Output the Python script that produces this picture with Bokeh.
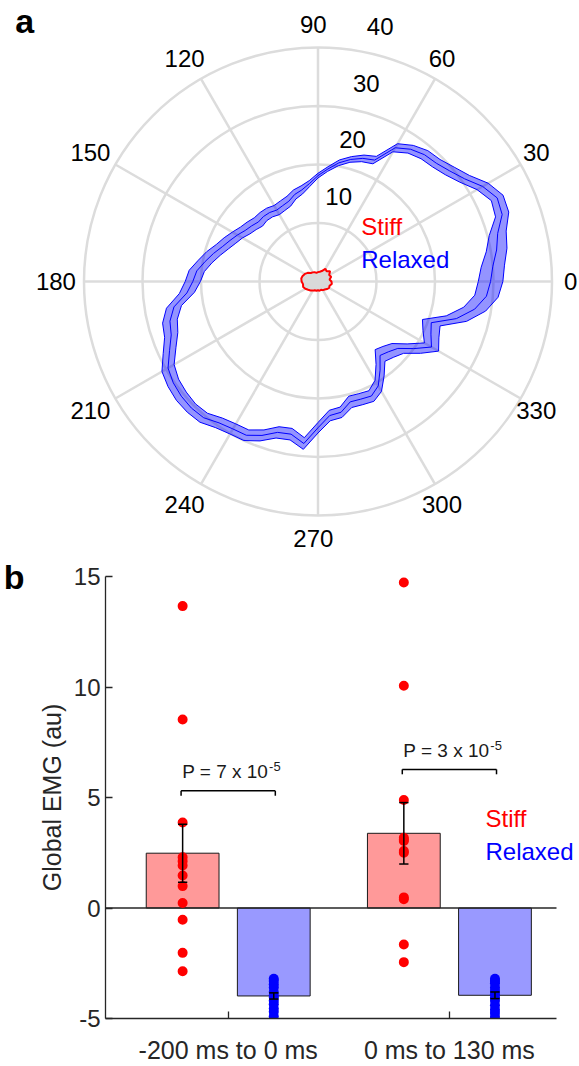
import numpy as np
from bokeh.plotting import figure
from bokeh.models import Label, FixedTicker, Range1d, LinearAxis
from bokeh.core.properties import value
from bokeh.embed import file_html
from bokeh.resources import INLINE

FONT = "Liberation Sans"

# ---------------- Panel a data (polar) ----------------
relaxed_angles_deg = list(range(0, 360, 5))
relaxed_mean = [29.5, 30.0, 31.0, 31.8, 33.5, 33.8, 32.5, 30.6, 29.4, 28.6, 28.3, 27.6,
                26.4, 22.9, 22.4, 21.6, 20.6, 19.3, 18.1, 16.8, 15.9, 15.4, 14.6, 14.3,
                14.1, 14.4, 14.5, 14.4, 14.8, 15.2, 15.9, 16.6, 17.4, 18.5, 19.6, 20.8,
                21.4, 22.5, 25.0, 26.2, 26.7, 28.0, 29.6, 30.2, 30.5, 30.6, 30.4, 29.5,
                29.1, 29.0, 28.0, 26.7, 26.5, 27.8, 25.0, 23.0, 22.7, 21.3, 21.4, 21.6,
                20.6, 18.5, 16.5, 17.0, 17.8, 20.0, 22.4, 21.3, 20.6, 24.5, 27.2, 28.9]
relaxed_halfwidth = [2.1, 2.0, 1.8, 1.5, 1.2, 1.1, 1.1, 1.0, 1.0, 0.9, 0.9, 0.8,
                     0.8, 0.7, 0.6, 0.5, 0.5, 0.4, 0.4, 0.5, 0.7, 0.8, 0.9, 0.9,
                     0.9, 0.9, 0.9, 1.0, 1.0, 1.0, 1.0, 1.1, 1.1, 1.2, 1.2, 1.3,
                     1.3, 1.3, 1.3, 1.3, 1.2, 1.2, 1.2, 1.1, 1.1, 1.0, 1.0, 1.0,
                     1.0, 1.0, 1.0, 1.0, 1.0, 1.0, 0.9, 0.9, 0.9, 1.0, 1.0, 1.0,
                     1.1, 1.2, 1.3, 1.3, 1.3, 1.4, 1.4, 1.5, 1.6, 1.8, 1.9, 2.0]
stiff_angles_deg = list(range(0, 360, 10))
stiff_r = [2.3, 2.0, 2.4, 2.2, 2.7, 2.3, 2.5, 1.9, 1.7, 1.6, 1.5, 1.7,
           1.8, 1.9, 2.3, 2.6, 2.8, 2.9, 2.8, 2.6, 2.7, 2.5, 2.2, 2.0,
           1.8, 1.6, 1.6, 1.5, 1.6, 1.5, 1.7, 1.8, 2.0, 2.2, 2.1, 2.4]
ring_values = [10, 20, 30, 40]
ring_labels = ["10", "20", "30", "40"]
spoke_angles_deg = [0, 30, 60, 90, 120, 150, 180, 210, 240, 270, 300, 330]
spoke_labels = ["0", "30", "60", "90", "120", "150", "180", "210", "240", "270", "300", "330"]
legend_names = ["Stiff", "Relaxed"]
legend_colors = ["#ff0000", "#0000ff"]

# ---------------- Panel b data (bars) ----------------
categories = ["-200 ms to 0 ms", "0 ms to 130 ms"]
cat_x = [1, 2]
stiff_bar = [2.48, 3.38]
stiff_err = [1.31, 1.39]
relaxed_bar = [-3.98, -3.95]
relaxed_err = [0.14, 0.15]
stiff_pts = [
    [13.66, 8.53, 3.87, 2.30, 2.12, 1.92, 1.47, 0.99, 0.23, -0.53, -2.03, -2.86],
    [14.73, 10.06, 4.89, 3.18, 3.10, 3.03, 2.58, 2.50, 0.48, 0.40, -1.65, -2.45],
]
relaxed_pts = [
    [-3.20, -3.30, -3.45, -3.60, -3.80, -3.95, -4.05, -4.20, -4.35, -4.55, -4.70, -4.90],
    [-3.20, -3.30, -3.40, -3.60, -3.75, -3.90, -4.05, -4.20, -4.40, -4.60, -4.75, -4.92],
]
p_main = ["P = 7 x 10", "P = 3 x 10"]
p_exp = ["-5", "-5"]
bracket_level = [5.30, 6.27]
y_ticks = [-5, 0, 5, 10, 15]
y_lim = (-5, 15)

# ================= Panel a =================
SCALE = 5.85          # px per unit
WA, HA = 579, 553
CX, CY = 317.5, 281.0
xa0, xa1 = -CX / SCALE, (WA - CX) / SCALE
ya0, ya1 = -(HA - CY) / SCALE, CY / SCALE

pa = figure(width=WA, height=HA, x_range=Range1d(xa0, xa1), y_range=Range1d(ya0, ya1),
            output_backend="svg", toolbar_location=None,
            x_axis_location=None, y_axis_location=None, min_border=0)
pa.outline_line_color = None
pa.grid.visible = False

GRID = "#dcdcdc"
n_r = len(ring_values)
pa.circle(x=np.zeros(n_r), y=np.zeros(n_r), radius=ring_values,
          fill_color=None, line_color=GRID, line_width=2.5)
sa = np.deg2rad(spoke_angles_deg)
rmax = max(ring_values)
pa.segment(x0=np.zeros(len(sa)), y0=np.zeros(len(sa)),
           x1=rmax * np.cos(sa), y1=rmax * np.sin(sa),
           line_color=GRID, line_width=2.5)

# relaxed band
th = np.deg2rad(relaxed_angles_deg)
rm = np.array(relaxed_mean)
hw = np.array(relaxed_halfwidth)
ro, ri = rm + hw, rm - hw
pa.multi_polygons(xs=[[[list(ro * np.cos(th)), list(ri * np.cos(th))]]],
                  ys=[[[list(ro * np.sin(th)), list(ri * np.sin(th))]]],
                  fill_color="#0000ff", fill_alpha=0.42, line_color="#0000ff", line_width=1)
thc = np.append(th, th[0])
rmc = np.append(rm, rm[0])
pa.line(rmc * np.cos(thc), rmc * np.sin(thc), line_color="#0000ff", line_width=1)

# stiff
ts = np.deg2rad(stiff_angles_deg)
rs = np.array(stiff_r)
pa.patch(rs * np.cos(ts), rs * np.sin(ts), fill_color="#d9d9d9",
         line_color="#ff0000", line_width=2)

# angle labels
LR = 1.1 * rmax
lx = LR * np.cos(sa) - 0.8
ly = LR * np.sin(sa)
half_w = np.array([len(s) for s in spoke_labels]) * 6.7 / SCALE
lx = np.minimum(lx, xa1 - half_w - 0.2)
pa.text(x=lx, y=ly, text=spoke_labels, text_font=value(FONT), text_font_size="24px",
        text_align="center", text_baseline="middle", text_color="#000000")

# radial labels
ra = np.deg2rad(76.3)
rr = np.array(ring_values) + 4.9
pa.text(x=rr * np.cos(ra), y=rr * np.sin(ra), text=ring_labels, text_font=value(FONT),
        text_font_size="24px", text_align="center", text_baseline="middle",
        text_color="#000000")

# legend (a)
leg_x = (360.7 - CX) / SCALE
leg_y = [(CY - 225.7) / SCALE, (CY - 259.0) / SCALE]
pa.text(x=[leg_x, leg_x], y=leg_y, text=legend_names, text_color=legend_colors,
        text_font=value(FONT), text_font_size="24px", text_align="left",
        text_baseline="middle")

pa.text(x=[(14.8 - CX) / SCALE], y=[(CY - 20.0) / SCALE], text=["a"],
        text_font=value(FONT), text_font_size="34px", text_font_style="bold",
        text_align="left", text_baseline="middle", text_color="#000000")

# ================= Panel b =================
WB, HB = 579, 513
PXU = 221.2           # px per category unit
FRAME_L = 105
xb0 = 1 - (227.7 - FRAME_L) / PXU
x_axis_end = xb0 + 451.0 / PXU
xb1 = xb0 + (WB - FRAME_L) / PXU
pb = figure(width=WB, height=HB, x_range=Range1d(xb0, xb1), y_range=Range1d(*y_lim),
            output_backend="svg", toolbar_location=None,
            min_border_left=FRAME_L, min_border_right=0, min_border_top=23, min_border_bottom=46)
pb.outline_line_color = None
pb.grid.visible = False

AX = "#262626"
for ax in (pb.xaxis[0], pb.yaxis[0]):
    ax.axis_line_color = AX
    ax.axis_line_width = 1.3
    ax.major_tick_line_color = AX
    ax.major_tick_line_width = 1.3
    ax.major_tick_in = 7
    ax.major_tick_out = 0
    ax.minor_tick_line_color = None
    ax.major_label_text_font = FONT
    ax.major_label_text_color = AX

pb.yaxis.ticker = FixedTicker(ticks=y_ticks)
pb.yaxis.major_label_overrides = {t: str(t) for t in y_ticks}
pb.yaxis.major_label_text_font_size = "24px"
pb.yaxis.major_label_standoff = 5
pb.yaxis.axis_label = "Global EMG (au)"
pb.yaxis.axis_label_text_font = FONT
pb.yaxis.axis_label_text_font_size = "25px"
pb.yaxis.axis_label_text_font_style = "normal"
pb.yaxis.axis_label_text_color = AX
pb.yaxis.axis_label_standoff = 5

pb.xaxis.bounds = (xb0, x_axis_end)
pb.xaxis.ticker = FixedTicker(ticks=cat_x)
pb.xaxis.major_label_overrides = {c: n for c, n in zip(cat_x, categories)}
pb.xaxis.major_label_standoff = 17
pb.xaxis.major_label_text_font_size = "25px"

# panel letter as an outer left axis label
b_axis = LinearAxis(ticker=FixedTicker(ticks=[y_lim[1]]), major_label_overrides={y_lim[1]: "b"},
                    axis_line_color=None, major_tick_line_color=None, minor_tick_line_color=None,
                    major_label_text_font=FONT, major_label_text_font_size="34px",
                    major_label_text_font_style="bold", major_label_text_color="#000000",
                    major_label_standoff=4)
pb.add_layout(b_axis, "left")

OFF = 0.206
BW = 0.329
xs_stiff = [c - OFF for c in cat_x]
xs_rel = [c + OFF for c in cat_x]
pb.vbar(x=xs_stiff, top=stiff_bar, bottom=0, width=BW, fill_color="#ff9999",
        line_color="#1a1a1a", line_width=1)
pb.vbar(x=xs_rel, top=relaxed_bar, bottom=0, width=BW, fill_color="#9999ff",
        line_color="#1a1a1a", line_width=1)
# zero line across the axis extent
pb.segment(x0=[xb0], y0=[0], x1=[x_axis_end], y1=[0], line_color=AX, line_width=1.3)

for i in range(len(cat_x)):
    pb.scatter(x=[xs_stiff[i]] * len(stiff_pts[i]), y=stiff_pts[i], size=10,
               color="#ff0000", line_color=None)
    pb.scatter(x=[xs_rel[i]] * len(relaxed_pts[i]), y=relaxed_pts[i], size=10,
               color="#0000ff", line_color=None)

# error bars
CAP = 0.021
ex = xs_stiff + xs_rel
em = stiff_bar + relaxed_bar
ee = stiff_err + relaxed_err
lo = [m - e for m, e in zip(em, ee)]
hi = [m + e for m, e in zip(em, ee)]
pb.segment(x0=ex, y0=lo, x1=ex, y1=hi, line_color="#000000", line_width=1.5)
pb.segment(x0=[x - CAP for x in ex], y0=lo, x1=[x + CAP for x in ex], y1=lo,
           line_color="#000000", line_width=1.5)
pb.segment(x0=[x - CAP for x in ex], y0=hi, x1=[x + CAP for x in ex], y1=hi,
           line_color="#000000", line_width=1.5)

# significance brackets
BH = 0.213
LEG = 0.22
bx0 = [c - BH for c in cat_x]
bx1 = [c + BH for c in cat_x]
pb.segment(x0=bx0, y0=bracket_level, x1=bx1, y1=bracket_level, line_color="#000000", line_width=1.5)
pb.segment(x0=bx0, y0=bracket_level, x1=bx0, y1=[b - LEG for b in bracket_level],
           line_color="#000000", line_width=1.5)
pb.segment(x0=bx1, y0=bracket_level, x1=bx1, y1=[b - LEG for b in bracket_level],
           line_color="#000000", line_width=1.5)
for i, c in enumerate(cat_x):
    jx = c + 0.181
    base = bracket_level[i] + 0.87
    pb.add_layout(Label(x=jx, y=base, text=p_main[i], text_font=FONT, text_font_size="19px",
                        text_align="right", text_baseline="alphabetic", text_color="#1a1a1a"))
    pb.add_layout(Label(x=jx + 0.004, y=base + 0.22, text=p_exp[i], text_font=FONT,
                        text_font_size="13px", text_align="left", text_baseline="alphabetic",
                        text_color="#1a1a1a"))

# legend (b)
lgx = 1 + (485 - 227.7) / PXU
for name, col, yy in zip(legend_names, legend_colors, [4.07, 2.56]):
    pb.add_layout(Label(x=lgx, y=yy, text=name, text_font=FONT, text_font_size="24px",
                        text_align="left", text_baseline="middle", text_color=col))

open("out.html", "w").write(file_html([pa, pb], INLINE))
